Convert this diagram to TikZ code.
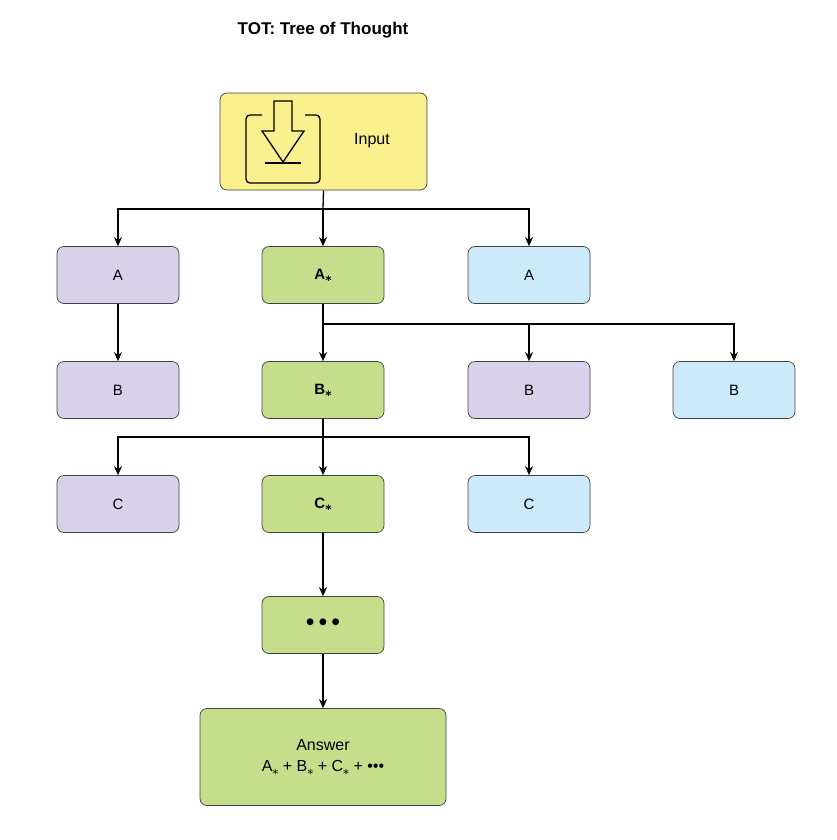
\documentclass[tikz,border=0pt]{standalone}
\usepackage{fontspec}
\setmainfont{Liberation Sans}
\newfontfamily\dv{DejaVu Sans}
\usetikzlibrary{arrows.meta}
\definecolor{cy}{HTML}{FAF08E}
\definecolor{cp}{HTML}{D9D0EA}
\definecolor{cg}{HTML}{C6DE8C}
\definecolor{cb}{HTML}{CDEAFB}
\newcommand{\st}{{\dv\raisebox{-0.15em}{\large ⁎}}}
\begin{document}
\begin{tikzpicture}[x=1pt,y=-1pt,
  box/.style={draw=black!75,line width=0.7pt,rounded corners=7pt,minimum width=122pt,minimum height=57pt,font=\fontsize{15}{18}\selectfont},
  pb/.style={box,fill=cp},gb/.style={box,fill=cg},bb/.style={box,fill=cb},
  ar/.style={-{Stealth[length=9pt,width=8pt]},line width=1.3pt}]
\useasboundingbox (0,0) rectangle (836,840);
\node[font=\bfseries\fontsize{17}{20}\selectfont] (title) at (323,30) {TOT: Tree of Thought};
\node[box,fill=cy,minimum width=207pt,minimum height=97pt] (in) at (323.5,141.5) {};
\node[font=\fontsize{16}{19}\selectfont] (inl) at (372,141) {Input};
\node[pb] (a1) at (118,275) {A};
\node[gb] (a2) at (323,275) {\textbf{A\st}};
\node[bb] (a3) at (529,275) {A};
\node[pb] (b1) at (118,390) {B};
\node[gb] (b2) at (323,390) {\textbf{B\st}};
\node[pb] (b3) at (529,390) {B};
\node[bb] (b4) at (734,390) {B};
\node[pb] (c1) at (118,504) {C};
\node[gb] (c2) at (323,504) {\textbf{C\st}};
\node[bb] (c3) at (529,504) {C};
\node[gb] (d) at (323,625) {\Huge\textbullet\,\textbullet\,\textbullet};
\node[gb,minimum width=246pt,minimum height=97pt,align=center,font=\fontsize{16}{21}\selectfont] (ans) at (323,757) {Answer\\A\st{} + B\st{} + C\st{} + \textbullet\textbullet\textbullet};
% icon
\draw[line width=1.3pt,rounded corners=4pt] (262,115) -- (246,115) -- (246,183) -- (320,183) -- (320,115) -- (305,115);
\draw[line width=1.3pt,line join=miter] (274,101) -- (292,101) -- (292,131) -- (304,131) -- (283,162) -- (262,131) -- (274,131) -- cycle;
\draw[line width=1.3pt] (265,163) -- (301,163);
% connectors
\coordinate (j0) at (323,209);
\draw[line width=1.3pt] (in.south) -- (j0);
\draw[ar] (j0) -- (a2.north);
\draw[ar] (j0) -| (a1.north);
\draw[ar] (j0) -| (a3.north);
\draw[ar] (a1) -- (b1);
\coordinate (j1) at (323,324);
\draw[line width=1.3pt] (a2.south) -- (j1);
\draw[ar] (j1) -- (b2.north);
\draw[ar] (j1) -| (b3.north);
\draw[ar] (j1) -| (b4.north);
\coordinate (j2) at (323,437);
\draw[line width=1.3pt] (b2.south) -- (j2);
\draw[ar] (j2) -- (c2.north);
\draw[ar] (j2) -| (c1.north);
\draw[ar] (j2) -| (c3.north);
\draw[ar] (c2) -- (d);
\draw[ar] (d) -- (ans);
\end{tikzpicture}
\end{document}
